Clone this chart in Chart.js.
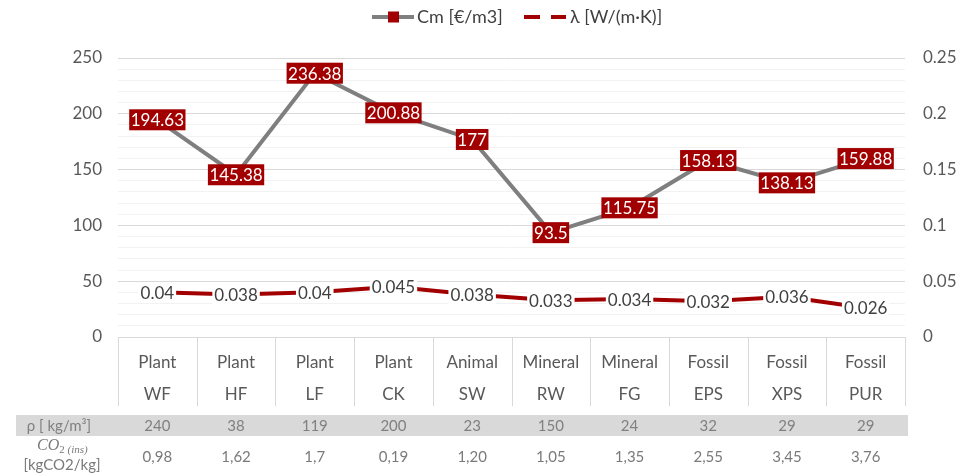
<!DOCTYPE html>
<html>
<head>
<meta charset="utf-8">
<script src="https://cdn.jsdelivr.net/npm/chart.js@4.4.1/dist/chart.umd.min.js"></script>
<style>
  body { margin: 0; background: #fff; }
</style>
</head>
<body>
<canvas id="costChart" width="959" height="476"></canvas>
<script>
// data
const groups = ["Plant", "Plant", "Plant", "Plant", "Animal", "Mineral", "Mineral", "Fossil", "Fossil", "Fossil"];
const materials = ["WF", "HF", "LF", "CK", "SW", "RW", "FG", "EPS", "XPS", "PUR"];
const costValues = [194.63, 145.38, 236.38, 200.88, 177, 93.5, 115.75, 158.13, 138.13, 159.88];
const lambdaValues = [0.04, 0.038, 0.04, 0.045, 0.038, 0.033, 0.034, 0.032, 0.036, 0.026];
const densityValues = ["240", "38", "119", "200", "23", "150", "24", "32", "29", "29"];
const co2Values = ["0,98", "1,62", "1,7", "0,19", "1,20", "1,05", "1,35", "2,55", "3,45", "3,76"];
const costMax = 250;
const lambdaMax = 0.25;

const FONT = "Lato, 'Open Sans', sans-serif";
const RED = "#a20000";
const GREY_LINE = "#7f7f7f";
const TEXT = "#595959";

// labels, separators, data table and legend
const extrasPlugin = {
  id: "extras",
  afterDatasetsDraw(chart) {
    const ctx = chart.ctx;
    ctx.save();
    ctx.font = "17px " + FONT;
    ctx.textAlign = "center";
    ctx.textBaseline = "middle";

    // lambda labels (white box, dark text)
    chart.getDatasetMeta(1).data.forEach((pt, i) => {
      const txt = String(lambdaValues[i]);
      const w = ctx.measureText(txt).width + 4;
      ctx.fillStyle = "#fff";
      ctx.fillRect(pt.x - w / 2, pt.y - 10, w, 20);
      ctx.fillStyle = "#404040";
      ctx.fillText(txt, pt.x, pt.y + 1);
    });

    // cost labels (red box, white text)
    chart.getDatasetMeta(0).data.forEach((pt, i) => {
      const txt = String(costValues[i]);
      const w = ctx.measureText(txt).width + 3;
      ctx.fillStyle = RED;
      ctx.fillRect(pt.x - w / 2, pt.y - 10.5, w, 21);
      ctx.fillStyle = "#fff";
      ctx.fillText(txt, pt.x, pt.y + 1);
    });
    ctx.restore();
  },
  afterDraw(chart) {
    const ctx = chart.ctx;
    const x = chart.scales.x;
    const area = chart.chartArea;
    const step = x.getPixelForValue(1) - x.getPixelForValue(0);
    ctx.save();

    // category separators
    ctx.strokeStyle = "#d9d9d9";
    ctx.lineWidth = 1;
    for (let i = 0; i <= materials.length; i++) {
      const px = Math.round(x.getPixelForValue(0) - step / 2 + i * step) + 0.5;
      ctx.beginPath();
      ctx.moveTo(px, area.bottom);
      ctx.lineTo(px, 406);
      ctx.stroke();
    }

    // density row
    ctx.fillStyle = "#d9d9d9";
    ctx.fillRect(16, 415, area.right + 3 - 16, 21);
    ctx.textAlign = "center";
    ctx.textBaseline = "middle";
    ctx.font = "15px " + FONT;
    ctx.fillStyle = "#808080";
    ctx.fillText("ρ [ kg/m³]", 59, 426);
    densityValues.forEach((v, i) => ctx.fillText(v, x.getPixelForValue(i), 426));

    // CO2 row
    ctx.fillStyle = "#7a7a7a";
    co2Values.forEach((v, i) => ctx.fillText(v, x.getPixelForValue(i), 457));
    ctx.fillText("[kgCO2/kg]", 62, 465);
    ctx.textAlign = "left";
    ctx.font = "italic 16px 'Liberation Serif', serif";
    ctx.fillText("CO", 37, 446);
    const coW = ctx.measureText("CO").width;
    ctx.font = "11px 'Liberation Serif', serif";
    ctx.fillText("2", 37 + coW, 450);
    const twoW = ctx.measureText("2 ").width;
    ctx.font = "italic 11px 'Liberation Serif', serif";
    ctx.fillText("(ins)", 37 + coW + twoW, 450);

    // legend
    const ly = 17;
    ctx.strokeStyle = GREY_LINE;
    ctx.lineWidth = 4;
    ctx.beginPath();
    ctx.moveTo(372, ly);
    ctx.lineTo(414, ly);
    ctx.stroke();
    ctx.fillStyle = RED;
    ctx.fillRect(388, ly - 5.5, 11, 11);
    ctx.strokeStyle = RED;
    ctx.beginPath();
    ctx.moveTo(524, ly);
    ctx.lineTo(540, ly);
    ctx.moveTo(551, ly);
    ctx.lineTo(566, ly);
    ctx.stroke();
    ctx.font = "18px " + FONT;
    ctx.fillStyle = "#404040";
    ctx.textAlign = "left";
    ctx.fillText("Cm [€/m3]", 417, ly);
    ctx.fillText("λ [W/(m·K)]", 570, ly);
    ctx.restore();
  }
};

const ctx = document.getElementById("costChart").getContext("2d");
const costChart = new Chart(ctx, {
  type: "line",
  data: {
    labels: groups.map((g, i) => [g, materials[i]]),
    datasets: [
      {
        label: "Cm [€/m3]",
        data: costValues,
        yAxisID: "y",
        borderColor: GREY_LINE,
        borderWidth: 4,
        pointStyle: "rect",
        pointRadius: 5,
        pointBackgroundColor: RED,
        pointBorderColor: RED,
        tension: 0,
      },
      {
        label: "λ [W/(m·K)]",
        data: lambdaValues,
        yAxisID: "y1",
        borderColor: RED,
        borderWidth: 4,
        pointRadius: 0,
        tension: 0,
      },
    ],
  },
  options: {
    responsive: false,
    animation: false,
    devicePixelRatio: 1,
    layout: { padding: { top: 58, bottom: 68, left: 0, right: 0 } },
    plugins: {
      legend: { display: false },
      tooltip: { enabled: false },
    },
    scales: {
      x: {
        offset: true,
        grid: { display: false },
        border: { display: true, color: "#d9d9d9" },
        ticks: {
          color: TEXT,
          font: { family: FONT, size: 17, lineHeight: 1.9 },
          padding: 1,
          maxRotation: 0,
          autoSkip: false,
        },
        afterFit: (s) => { s.height = 71; },
      },
      y: {
        position: "left",
        min: 0,
        max: costMax,
        ticks: {
          stepSize: 10,
          autoSkip: false,
          color: TEXT,
          font: { family: FONT, size: 17 },
          padding: 16,
          callback: (v) => (v % 50 === 0 ? v : ""),
        },
        grid: {
          drawTicks: false,
          color: (c) => (c.tick && c.tick.value % 50 === 0 ? "#d9d9d9" : "#f2f2f2"),
        },
        border: { display: false },
        afterFit: (s) => { s.width = 118; },
      },
      y1: {
        position: "right",
        min: 0,
        max: lambdaMax,
        ticks: {
          stepSize: 0.05,
          color: TEXT,
          font: { family: FONT, size: 17 },
          padding: 18,
          callback: (v) => String(+v.toFixed(2)),
        },
        grid: { drawOnChartArea: false, drawTicks: false },
        border: { display: false },
        afterFit: (s) => { s.width = 54; },
      },
    },
  },
  plugins: [extrasPlugin],
});
</script>
</body>
</html>
